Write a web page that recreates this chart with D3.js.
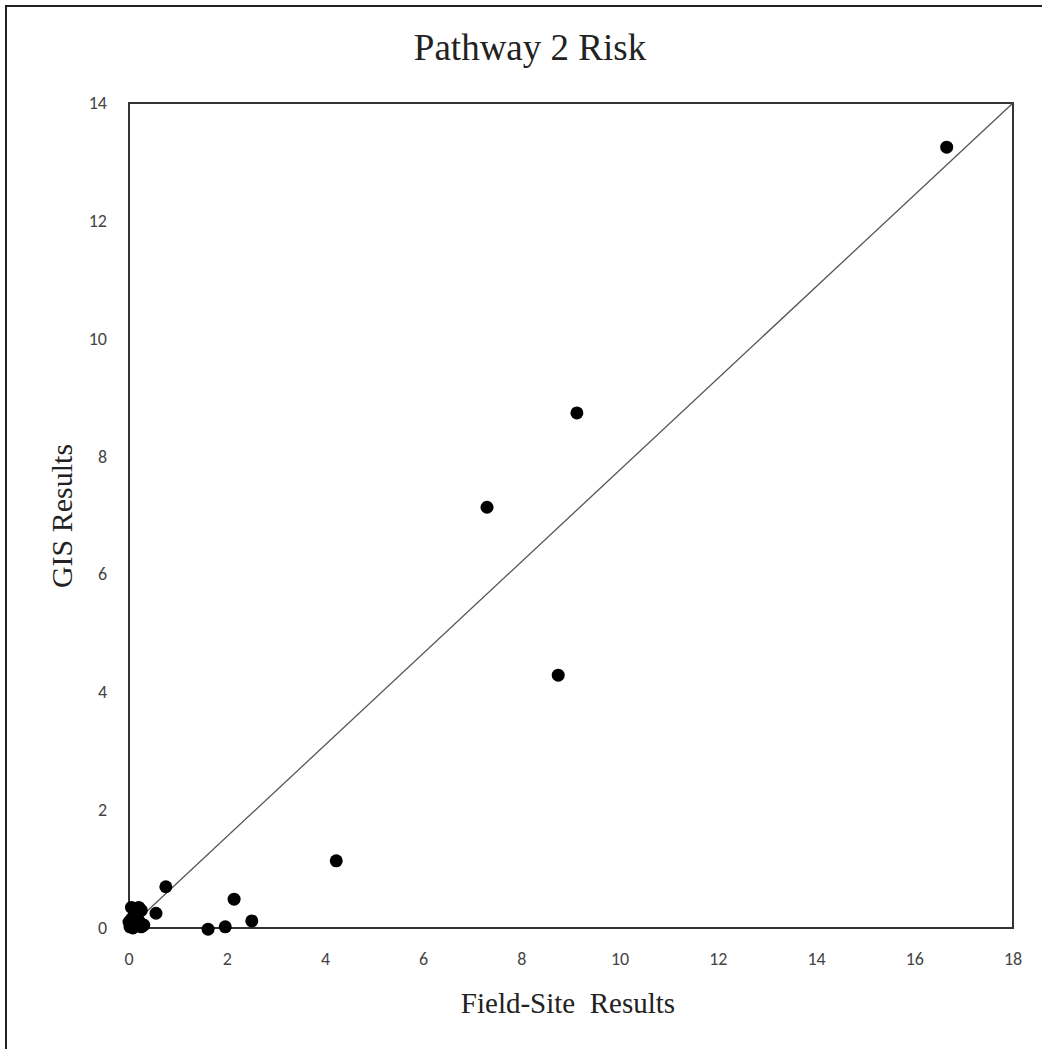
<!DOCTYPE html>
<html>
<head>
<meta charset="utf-8">
<script src="https://cdn.jsdelivr.net/npm/d3@7"></script>
<style>
  body { margin: 0; background: #fff; }
  svg { display: block; }
</style>
</head>
<body>
<svg width="1042" height="1049"></svg>
<script>
// data
var fieldSite = [16.65, 9.12, 7.29, 8.74, 4.22, 0.75, 2.14, 0.55, 2.50, 1.96, 1.61,
                 0.05, 0.20, 0.25, 0.10, 0.00, 0.02, 0.15, 0.25, 0.05, 0.20, 0.30, 0.08];
var gisResult = [13.25, 8.74, 7.14, 4.29, 1.14, 0.70, 0.49, 0.25, 0.12, 0.02, -0.02,
                 0.35, 0.35, 0.30, 0.20, 0.10, 0.02, 0.05, 0.02, 0.15, 0.12, 0.05, 0.00];
var xTicks = [0, 2, 4, 6, 8, 10, 12, 14, 16, 18];
var yTicks = [0, 2, 4, 6, 8, 10, 12, 14];
var refLine = [[0, 0], [18, 14]];

var svg = d3.select("svg");

// outer frame
svg.append("path")
  .attr("d", "M6,1049 L6,6 L1042,6")
  .attr("fill", "none")
  .attr("stroke", "#222")
  .attr("stroke-width", 2);

var x = d3.scaleLinear().domain([0, 18]).range([129, 1013]);
var y = d3.scaleLinear().domain([0, 14]).range([928, 103]);

// plot box
svg.append("rect")
  .attr("x", x(0)).attr("y", y(14))
  .attr("width", x(18) - x(0)).attr("height", y(0) - y(14))
  .attr("fill", "none").attr("stroke", "#333").attr("stroke-width", 2);

// x tick labels
svg.append("g").selectAll("text")
  .data(xTicks).enter().append("text")
  .attr("x", function(d) { return x(d); })
  .attr("y", 965)
  .attr("text-anchor", "middle")
  .attr("font-family", "Carlito, 'Open Sans', sans-serif")
  .attr("font-size", 18)
  .attr("fill", "#444")
  .text(function(d) { return d; });

// y tick labels
svg.append("g").selectAll("text")
  .data(yTicks).enter().append("text")
  .attr("x", 107)
  .attr("y", function(d) { return y(d) + 6; })
  .attr("text-anchor", "end")
  .attr("font-family", "Carlito, 'Open Sans', sans-serif")
  .attr("font-size", 18)
  .attr("fill", "#444")
  .text(function(d) { return d; });

// diagonal line
svg.append("path")
  .datum(refLine)
  .attr("d", d3.line().x(function(d) { return x(d[0]); }).y(function(d) { return y(d[1]); }))
  .attr("fill", "none")
  .attr("stroke", "#555")
  .attr("stroke-width", 1.3);

// points
svg.append("g").selectAll("circle")
  .data(fieldSite).enter().append("circle")
  .attr("cx", function(d) { return x(d); })
  .attr("cy", function(d, i) { return y(gisResult[i]); })
  .attr("r", 6.5)
  .attr("fill", "#000");

// titles
svg.append("text")
  .attr("x", 530).attr("y", 60)
  .attr("text-anchor", "middle")
  .attr("font-family", "'Liberation Serif', 'Times New Roman', serif")
  .attr("font-size", 37)
  .attr("fill", "#222")
  .text("Pathway 2 Risk");

svg.append("text")
  .attr("x", 568).attr("y", 1013)
  .attr("text-anchor", "middle")
  .attr("font-family", "'Liberation Serif', 'Times New Roman', serif")
  .attr("font-size", 29)
  .attr("fill", "#222")
  .attr("xml:space", "preserve")
  .text("Field-Site  Results");

svg.append("text")
  .attr("transform", "translate(72,516) rotate(-90)")
  .attr("text-anchor", "middle")
  .attr("font-family", "'Liberation Serif', 'Times New Roman', serif")
  .attr("font-size", 30)
  .attr("fill", "#222")
  .text("GIS Results");
</script>
</body>
</html>
